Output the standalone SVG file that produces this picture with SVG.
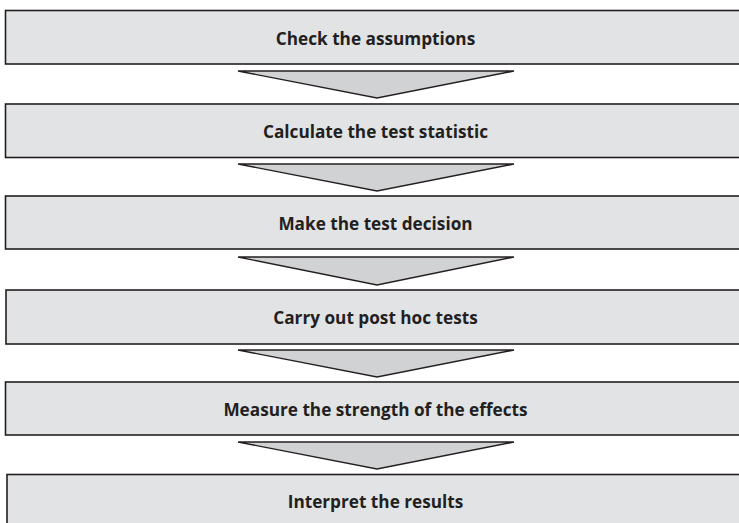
<svg xmlns="http://www.w3.org/2000/svg" width="739" height="523" viewBox="0 0 739 523">
<style>
.box{fill:#e2e3e5;stroke:#231f20;stroke-width:1.6}
.arr{fill:#d1d2d4;stroke:#231f20;stroke-width:1.4;stroke-linejoin:miter}
.lbl{font-family:"Open Sans","Liberation Sans",sans-serif;font-weight:bold;font-size:17.2px;fill:#231f20;text-anchor:middle}
</style>
<rect width="739" height="523" fill="#ffffff"/>
<g id="connectors">
<polygon class="arr" points="238,71 514,71 377,98"/>
<polygon class="arr" points="238,164 514,164 377,191"/>
<polygon class="arr" points="238,257 514,257 377,285"/>
<polygon class="arr" points="238,350 514,350 377,377"/>
<polygon class="arr" points="238,442 514,442 377,469"/>
</g>
<g id="n1"><rect class="box" x="5.5" y="10.5" width="745" height="53.5"/><text class="lbl" x="375.5" y="44.5">Check the assumptions</text></g>
<g id="n2"><rect class="box" x="5.5" y="104" width="745" height="53.5"/><text class="lbl" x="375.5" y="138">Calculate the test statistic</text></g>
<g id="n3"><rect class="box" x="5.5" y="196" width="745" height="53"/><text class="lbl" x="375.5" y="229.5">Make the test decision</text></g>
<g id="n4"><rect class="box" x="6" y="290" width="745" height="54"/><text class="lbl" x="375.5" y="324">Carry out post hoc tests</text></g>
<g id="n5"><rect class="box" x="5.5" y="382" width="745" height="53"/><text class="lbl" x="375.5" y="415.5">Measure the strength of the effects</text></g>
<g id="n6"><rect class="box" x="7" y="474.5" width="745" height="60"/><text class="lbl" x="375.5" y="507.5">Interpret the results</text></g>
</svg>
